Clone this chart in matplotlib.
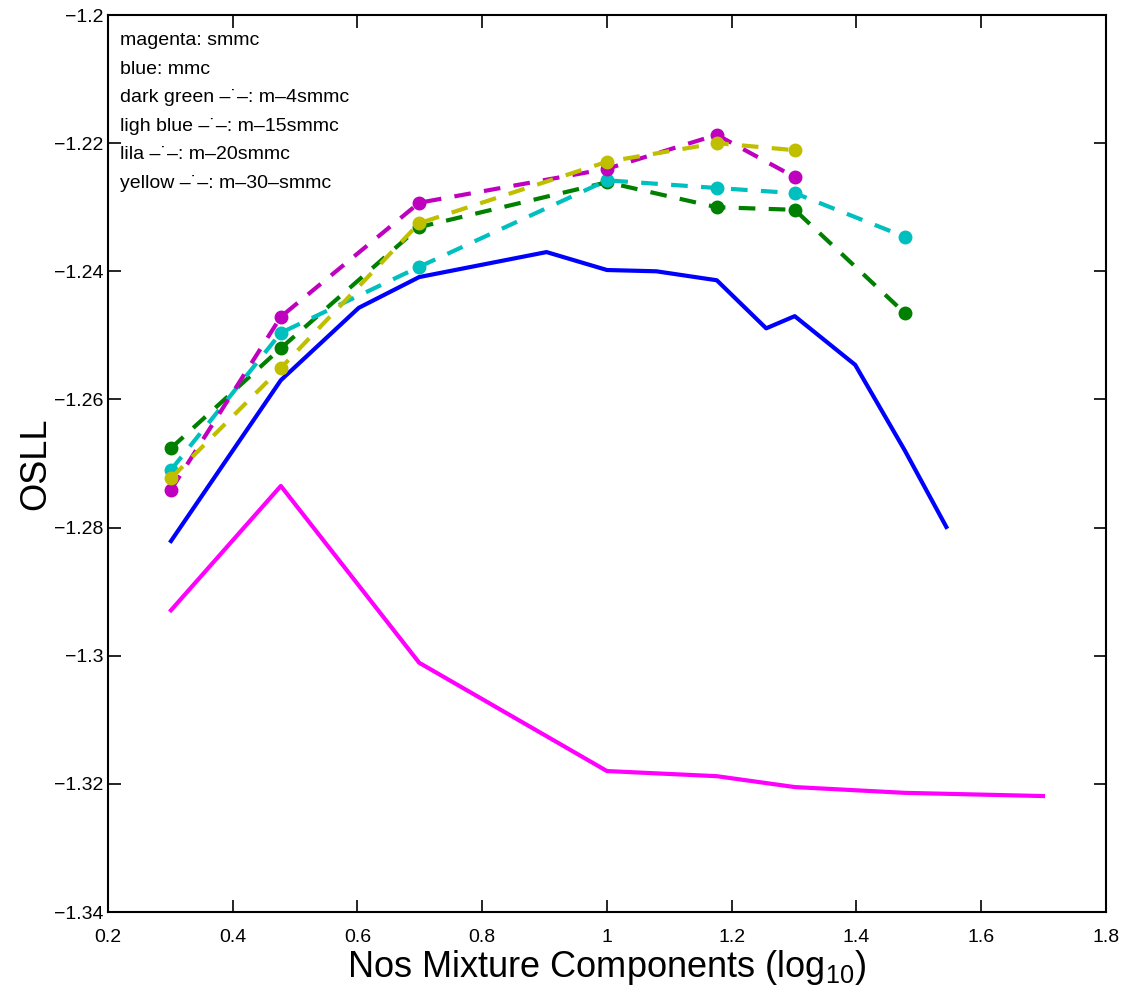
import matplotlib
matplotlib.use("Agg")
import matplotlib.pyplot as plt
from matplotlib.ticker import FuncFormatter
import numpy as np

plt.rcParams['font.family'] = ['Liberation Sans', 'DejaVu Sans']
plt.rcParams['mathtext.default'] = 'regular'

# number of mixture components (log10)
x_smmc = np.log10([2, 3, 5, 10, 15, 20, 30, 50])
y_smmc = [-1.2929, -1.2735, -1.3011, -1.3180, -1.3188, -1.3205, -1.3214, -1.3219]

x_mmc = np.log10([2, 3, 4, 5, 8, 10, 12, 15, 18, 20, 25, 30, 35])
y_mmc = [-1.2821, -1.2570, -1.2457, -1.2409, -1.2370, -1.2398, -1.2400,
         -1.2414, -1.2489, -1.2470, -1.2546, -1.2679, -1.2799]

x_m4 = np.log10([2, 3, 5, 10, 15, 20, 30])
y_m4 = [-1.2676, -1.2520, -1.2331, -1.2261, -1.2300, -1.2304, -1.2465]

x_m15 = np.log10([2, 3, 5, 10, 15, 20, 30])
y_m15 = [-1.2710, -1.2496, -1.2393, -1.2258, -1.2270, -1.2278, -1.2346]

x_m20 = np.log10([2, 3, 5, 10, 15, 20])
y_m20 = [-1.2741, -1.2471, -1.2293, -1.2240, -1.2187, -1.2253]

x_m30 = np.log10([2, 3, 5, 10, 15, 20])
y_m30 = [-1.2723, -1.2551, -1.2325, -1.2229, -1.2200, -1.2211]

legend_lines = ["magenta: smmc",
                "blue: mmc",
                "dark green \u2013\u02d9\u2013: m\u20134smmc",
                "ligh blue \u2013\u02d9\u2013: m\u201315smmc",
                "lila \u2013\u02d9\u2013: m\u201320smmc",
                "yellow \u2013\u02d9\u2013: m\u201330\u2013smmc"]

fig = plt.figure(figsize=(11.26, 10.01), dpi=100)
ax = fig.add_axes([0.0959, 0.0889, 0.8863, 0.8961])

# Plot lines
ax.plot(x_smmc, y_smmc, color='#ff00ff', lw=3)
ax.plot(x_mmc, y_mmc, color='#0000ff', lw=3)
ax.plot(x_m4, y_m4, '--o', color='#008000', lw=3, ms=9, dashes=(4, 3.2))
ax.plot(x_m15, y_m15, '--o', color='#00bfbf', lw=3, ms=9, dashes=(4, 3.2))
ax.plot(x_m20, y_m20, '--o', color='#bf00bf', lw=3, ms=9, dashes=(4, 3.2))
ax.plot(x_m30, y_m30, '--o', color='#bfbf00', lw=3, ms=9, dashes=(4, 3.2))

ax.set_xlim(0.2, 1.8)
ax.set_ylim(-1.34, -1.2)
ax.set_xticks(np.arange(0.2, 1.81, 0.2))
ax.set_yticks(np.arange(-1.34, -1.199, 0.02))
fmt = FuncFormatter(lambda v, p: ('%g' % round(v, 4)).replace('-', '\u2212'))
ax.xaxis.set_major_formatter(fmt)
ax.yaxis.set_major_formatter(fmt)
ax.tick_params(direction='in', top=True, right=True, length=9, width=1.2, labelsize=14)
ax.tick_params(axis='x', pad=12)
for s in ax.spines.values():
    s.set_linewidth(1.5)

ax.set_xlabel('Nos Mixture Components (log$_{10}$)', fontsize=26, labelpad=2)
ax.set_ylabel('OSLL', fontsize=26, labelpad=0)

for i, t in enumerate(legend_lines):
    ax.text(0.012, 0.981 - i * 0.0318, t, transform=ax.transAxes,
            fontsize=14, va='top', ha='left')

fig.savefig('out.png', dpi=100)
